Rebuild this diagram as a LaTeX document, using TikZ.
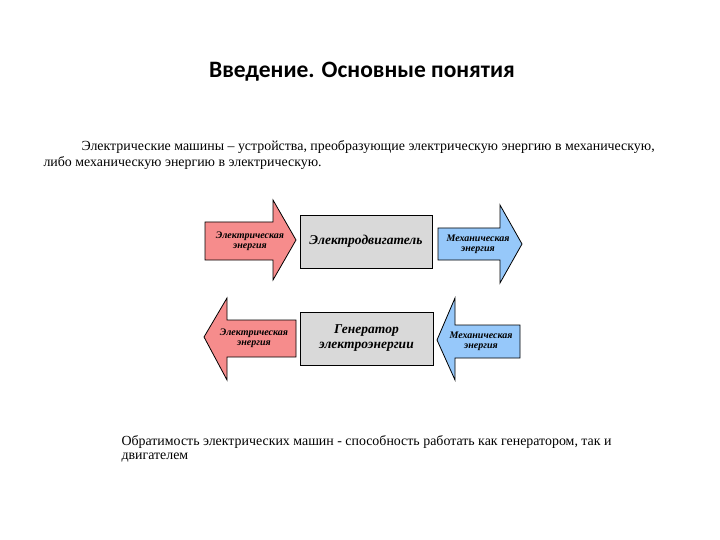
\documentclass[tikz,border=0pt]{standalone}
\usepackage{fontspec}
\setmainfont{Liberation Serif}
\newfontfamily\titlefont{Carlito}
\definecolor{redc}{RGB}{246,140,140}
\definecolor{bluec}{RGB}{150,200,250}
\begin{document}
\begin{tikzpicture}[x=1pt,y=-1pt,
  redf/.style={draw=black,fill=redc,line width=0.8pt},
  bluef/.style={draw=black,fill=bluec,line width=0.8pt},
  boxf/.style={draw=black,fill=black!15,line width=0.8pt},
  arrtxt/.style={font=\fontsize{10}{10}\selectfont\bfseries\itshape,align=center,inner sep=0pt},
  boxtxt/.style={font=\fontsize{13.5}{15}\selectfont\bfseries\itshape,align=center},
  para/.style={font=\fontsize{13.9}{15}\selectfont,anchor=west}]
\useasboundingbox (0,0) rectangle (720,540);
\node[font=\titlefont\fontsize{23.5}{25}\selectfont\bfseries] (title) at (362,72) {Введение. Основные понятия};
\node[para] (p1) at (78,147) {Электрические машины – устройства, преобразующие электрическую энергию в механическую,};
\node[para] (p2) at (40,163) {либо механическую энергию в электрическую.};
% top row
\draw[redf] (205,222) -- (273,222) -- (273,200) -- (296,240) -- (273,280) -- (273,260) -- (205,260) -- cycle;
\node[arrtxt] (r1) at (250,241) {Электрическая\\энергия};
\node[boxf,minimum width=132pt,minimum height=53pt] (b1) at (366,241.5) {};
\node[boxtxt] (b1t) at (b1) {Электродвигатель};
\draw[bluef] (438,228) -- (500,228) -- (500,205) -- (522,244) -- (500,283) -- (500,260) -- (438,260) -- cycle;
\node[arrtxt] (bl1) at (478,244) {Механическая\\энергия};
% bottom row
\draw[redf] (296,320) -- (227,320) -- (227,298) -- (204,337) -- (227,380) -- (227,357) -- (296,357) -- cycle;
\node[arrtxt] (r2) at (254,338) {Электрическая\\энергия};
\node[boxf,minimum width=133pt,minimum height=53pt] (b2) at (366.5,338.5) {};
\node[boxtxt] (b2t) at (b2) {Генератор\\электроэнергии};
\draw[bluef] (520,325) -- (455,325) -- (455,298) -- (437,340) -- (455,380) -- (455,358) -- (520,358) -- cycle;
\node[arrtxt] (bl2) at (481,341) {Механическая\\энергия};
\node[para] (q1) at (118,442) {Обратимость электрических машин - способность работать как генератором, так и};
\node[para] (q2) at (118,458) {двигателем};
\end{tikzpicture}
\end{document}
